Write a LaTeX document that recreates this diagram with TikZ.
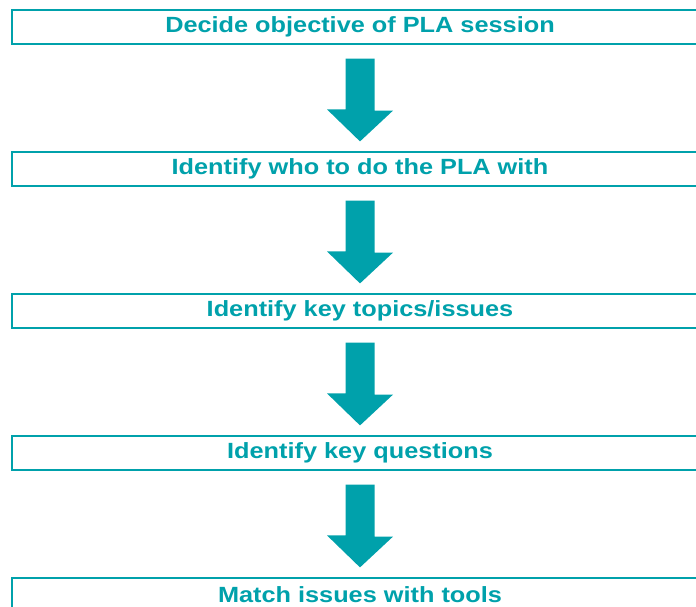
\documentclass[tikz,border=0pt]{standalone}
\usepackage{fontspec}
\usepackage{graphicx}
\setmainfont{Liberation Sans}
\usetikzlibrary{calc}
\definecolor{plateal}{RGB}{0,161,171}
\newcommand{\widetext}[1]{\scalebox{1.15}[1]{#1}}
\tikzset{
  stepbox/.style={draw=plateal, line width=1.2pt, minimum width=696pt, minimum height=34pt,
    inner sep=0pt, text=plateal, font=\fontsize{22}{24}\selectfont\bfseries},
  flow/.style={fill=plateal},
}
\begin{document}
\begin{tikzpicture}[x=1pt, y=-1pt]
    \useasboundingbox (0,0) rectangle (696,607);
    \clip (0,0) rectangle (696,607);
    \node[stepbox] (s1) at (360,27) {\widetext{Decide objective of PLA session}};
    \node[stepbox] (s2) at (360,169) {\widetext{Identify who to do the PLA with}};
    \node[stepbox] (s3) at (360,311) {\widetext{Identify key topics/issues}};
    \node[stepbox] (s4) at (360,453) {\widetext{Identify key questions}};
    \node[stepbox] (s5) at (360,595) {\widetext{Match issues with tools}};
    \foreach \a/\b in {s1/s2, s2/s3, s3/s4, s4/s5}
        \fill[flow] ($(\a.south)+(-14.5,14)$) -- ++(29,0) -- ++(0,52) -- ++(18.5,0)
            -- ($(\b.north)+(0,-10)$) -- ++(-33,-32) -- ++(18.5,0) -- cycle;
\end{tikzpicture}
\end{document}
